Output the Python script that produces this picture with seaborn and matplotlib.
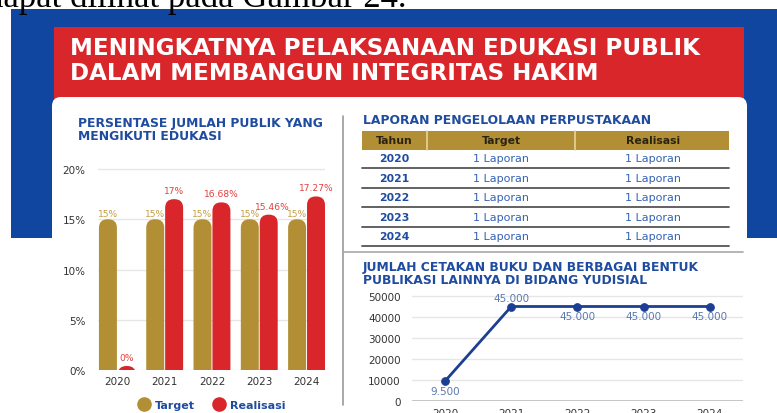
import matplotlib
matplotlib.use('Agg')
import numpy as np
import pandas as pd
import seaborn as sns
import matplotlib.pyplot as plt
from matplotlib.patches import Rectangle, FancyBboxPatch
from matplotlib.lines import Line2D

# ---- data ----
years = [2020, 2021, 2022, 2023, 2024]
edu_target = [15, 15, 15, 15, 15]
edu_realisasi = [0, 17, 16.68, 15.46, 17.27]

lib_years = ['2020', '2021', '2022', '2023', '2024']
lib_target = ['1 Laporan'] * 5
lib_realisasi = ['1 Laporan'] * 5
lib_header = ['Tahun', 'Target', 'Realisasi']

pub_years = [2020, 2021, 2022, 2023, 2024]
pub_jumlah = [9500, 45000, 45000, 45000, 45000]

# ---- colours ----
BLUE_BG = '#1045A0'
RED = '#D9262A'
GOLD = '#B28F35'
TITLE_BLUE = '#1F4CA0'
LINE_BLUE = '#1C3F94'
TICK = '#333333'

sns.set_style('white')
plt.rcParams['font.family'] = ['DejaVu Sans']

W, H = 777, 414
fig = plt.figure(figsize=(W / 100, H / 100), dpi=100)
fig.patch.set_facecolor('white')


def px_axes(x0, y0, x1, y1, z=2):
    ax = fig.add_axes([x0 / W, 1 - y1 / H, (x1 - x0) / W, (y1 - y0) / H], zorder=z)
    ax.set_facecolor('none')
    return ax


def fit(t, width):
    r = fig.canvas.get_renderer()
    bb = t.get_window_extent(r)
    t.set_fontsize(t.get_fontsize() * width / bb.width)
    return t.get_fontsize()


# background layer in pixel units
bg = px_axes(0, 0, W, H, z=0)
bg.set_xlim(0, W)
bg.set_ylim(H, 0)
bg.axis('off')

bg.text(407, 7, 'dapat dilihat pada Gambar 24.', family='Liberation Serif',
        fontsize=25, ha='right', va='baseline', color='black')
bg.add_patch(Rectangle((11, 10), W - 11, 229, color=BLUE_BG, lw=0))
bg.add_patch(Rectangle((54, 28), 690, 90, color=RED, lw=0))
bg.add_patch(FancyBboxPatch((52, 98), 695, 340, boxstyle='round,pad=0,rounding_size=9',
                            fc='white', ec='none'))

h1 = bg.text(70, 48.5, 'MENINGKATNYA PELAKSANAAN EDUKASI PUBLIK', color='white',
             fontsize=14, fontweight='bold', va='center', ha='left')
fs = fit(h1, 629)
bg.text(70, 74, 'DALAM MEMBANGUN INTEGRITAS HAKIM', color='white',
        fontsize=fs, fontweight='bold', va='center', ha='left')

# section titles
t = bg.text(78, 124, 'PERSENTASE JUMLAH PUBLIK YANG', color=TITLE_BLUE,
            fontsize=8, fontweight='bold', va='center')
fs = fit(t, 246)
bg.text(78, 136.5, 'MENGIKUTI EDUKASI', color=TITLE_BLUE, fontsize=fs,
        fontweight='bold', va='center')

t = bg.text(363, 120.5, 'LAPORAN PENGELOLAAN PERPUSTAKAAN', color=TITLE_BLUE,
            fontsize=8, fontweight='bold', va='center')
fit(t, 288)

t = bg.text(363, 267.5, 'JUMLAH CETAKAN BUKU DAN BERBAGAI BENTUK', color=TITLE_BLUE,
            fontsize=8, fontweight='bold', va='center')
fs = fit(t, 337)
bg.text(363, 281, 'PUBLIKASI LAINNYA DI BIDANG YUDISIAL', color=TITLE_BLUE,
        fontsize=fs, fontweight='bold', va='center')

# dividers
bg.plot([343, 343], [117, 406], color='#9a9a9a', lw=1.2)
bg.plot([343, 743], [253, 253], color='#a8a8a8', lw=1.2)

# ---- table ----
col_edges = [362, 427, 575, 729]
col_centers = [394, 501, 653]
bg.add_patch(Rectangle((362, 131.5), 367, 19, color=GOLD, lw=0))
for xe in col_edges[1:-1]:
    bg.plot([xe, xe], [131.5, 150.5], color='#E6D39A', lw=1.2)
for xc, lab in zip(col_centers, lib_header):
    bg.text(xc, 141, lab, ha='center', va='center', fontsize=7.8,
            fontweight='bold', color='#2a2212')
for i, (yr, tg, rl) in enumerate(zip(lib_years, lib_target, lib_realisasi)):
    yc = 159.5 + i * 19.4
    bg.text(col_centers[0], yc, yr, ha='center', va='center', fontsize=7.8,
            fontweight='bold', color=TITLE_BLUE)
    bg.text(col_centers[1], yc, tg, ha='center', va='center', fontsize=8,
            color='#3563B5')
    bg.text(col_centers[2], yc, rl, ha='center', va='center', fontsize=8,
            color='#3563B5')
    bg.plot([362, 729], [yc + 9.8, yc + 9.8], color='#555555', lw=1.3)

# ---- bar chart ----
edu = pd.DataFrame({
    'Tahun': [str(y) for y in years] * 2,
    'Nilai': edu_target + edu_realisasi,
    'Jenis': ['Target'] * 5 + ['Realisasi'] * 5,
})
ax1 = px_axes(98, 165, 325, 371)
sns.barplot(data=edu, x='Tahun', y='Nilai', hue='Jenis', palette=[GOLD, RED],
            saturation=1, gap=0.05, legend=False, ax=ax1)
ax1.set_xlim(-0.41, 4.39)
ax1.set_ylim(0, 20.5)
ax1.set_yticks([0, 5, 10, 15, 20])
ax1.set_yticklabels(['0%', '5%', '10%', '15%', '20%'])
ax1.grid(axis='y', color='#e6e6e6', lw=1)
ax1.set_axisbelow(True)
for s in ax1.spines.values():
    s.set_visible(False)
ax1.tick_params(axis='y', length=0, pad=9, labelsize=7.5, labelcolor=TICK)
ax1.tick_params(axis='x', length=0, pad=4, labelsize=7.5, labelcolor=TICK)
ax1.set_xlabel('')
ax1.set_ylabel('')

label_cols = ['#C49D42', '#E3403F']
for k, (cont, vals, lc) in enumerate(zip(ax1.containers, [edu_target, edu_realisasi], label_cols)):
    for bar, v in zip(cont, vals):
        x, w = bar.get_x(), bar.get_width()
        fc = bar.get_facecolor()
        bar.set_visible(False)
        top = max(v, 0.4)
        r = w * 0.48
        ax1.add_patch(FancyBboxPatch((x, -3), w, top + 3,
                                     boxstyle=f'round,pad=0,rounding_size={r}',
                                     mutation_aspect=47.25 / 10.05,
                                     fc=fc, ec='none', zorder=2))
        # realisasi labels sit a little higher; nudge the one crowding the 15% labels
        dx = 4 if (k == 1 and 15 < v < 16) else 0
        dy = 4 if k == 1 else 1
        ax1.annotate(f'{v:g}%', (x + w / 2, top), xytext=(dx, dy),
                     textcoords='offset pixels', ha='center', va='bottom',
                     fontsize=6.6, color=lc, zorder=3)

fig.legend(handles=[Line2D([], [], ls='', marker='o', ms=9.5, color=GOLD),
                    Line2D([], [], ls='', marker='o', ms=9.5, color=RED)],
           labels=['Target', 'Realisasi'], loc='center', ncol=2, frameon=False,
           bbox_to_anchor=(212 / W, 1 - 406 / H), handletextpad=0.5,
           columnspacing=1.6, handlelength=1,
           prop={'weight': 'bold', 'size': 8}, labelcolor=TITLE_BLUE)

# ---- line chart ----
pub = pd.DataFrame({'Tahun': pub_years, 'Jumlah': pub_jumlah})
ax2 = px_axes(412, 292.8, 743, 402)
sns.lineplot(data=pub, x='Tahun', y='Jumlah', color=LINE_BLUE, lw=2,
             marker='o', ms=5.5, mec=LINE_BLUE, ax=ax2)
ax2.set_xlim(2019.5, 2024.5)
ax2.set_ylim(0, 52000)
ax2.set_xticks(pub_years)
ax2.set_yticks([0, 10000, 20000, 30000, 40000, 50000])
ax2.grid(axis='y', color='#e6e6e6', lw=1)
ax2.set_axisbelow(True)
for s in ax2.spines.values():
    s.set_visible(False)
ax2.axhline(0, color='#bdbdbd', lw=1.2, zorder=1)
ax2.tick_params(length=0, labelsize=7.5, labelcolor=TICK)
ax2.tick_params(axis='y', pad=8)
ax2.tick_params(axis='x', pad=5)
ax2.set_xlabel('')
ax2.set_ylabel('')
for i, (x, v) in enumerate(zip(pub_years, pub_jumlah)):
    lab = f'{v:,}'.replace(',', '.')
    dy = 8 if i == 1 else -10
    ax2.annotate(lab, (x, v), xytext=(0, dy), textcoords='offset pixels',
                 ha='center', va='center', fontsize=7.5, color='#5a78ad')

fig.savefig('out.png', dpi=100)
